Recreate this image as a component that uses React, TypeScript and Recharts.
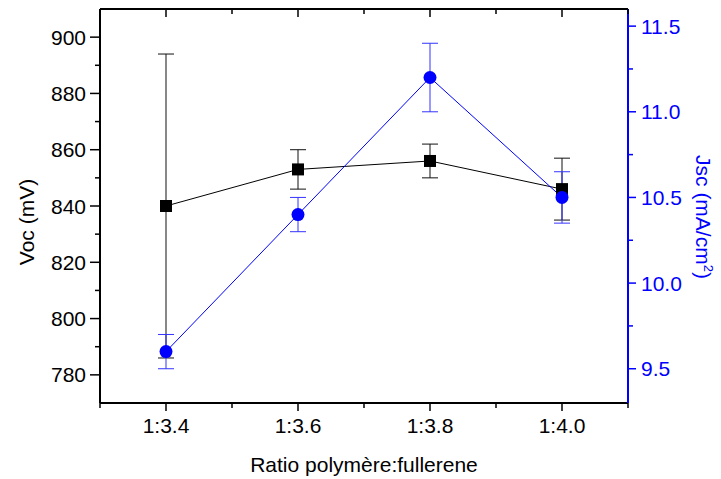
import React from 'react';
import { ComposedChart, Line, XAxis, YAxis, ErrorBar, Label } from 'recharts';

const ratioLabels = ['1:3.4', '1:3.6', '1:3.8', '1:4.0'];
const ratioValues = [3.4, 3.6, 3.8, 4.0];
const vocValues = [840, 853, 856, 846];
const vocErrors = [54, 7, 6, 11];
const jscValues = [9.6, 10.4, 11.2, 10.5];
const jscErrors = [0.1, 0.1, 0.2, 0.15];

const xTicks = [3.3, 3.4, 3.5, 3.6, 3.7, 3.8, 3.9, 4.0, 4.1];
const vocTicks = [780, 790, 800, 810, 820, 830, 840, 850, 860, 870, 880, 890, 900];
const vocMajorTicks = [780, 800, 820, 840, 860, 880, 900];
const jscTicks = [9.5, 9.75, 10.0, 10.25, 10.5, 10.75, 11.0, 11.25, 11.5];
const jscMajorTicks = [9.5, 10.0, 10.5, 11.0, 11.5];

const data = ratioValues.map((x, i) => ({
  x,
  voc: vocValues[i],
  vocErr: vocErrors[i],
  jsc: jscValues[i],
  jscErr: jscErrors[i],
}));

const FONT = '"Liberation Sans", Arial, Helvetica, sans-serif';
const BLUE = '#0000ff';
const FS = 21;

const indexIn = (v: number, arr: number[]) => arr.findIndex((a) => Math.abs(a - v) < 1e-6);

const BottomTick = (props: any) => {
  const { x, y, payload } = props;
  const idx = indexIn(payload.value, ratioValues);
  const major = idx >= 0;
  return (
    <g>
      <line x1={x} x2={x} y1={y} y2={y + (major ? 8 : 5)} stroke="#000" strokeWidth={1.5} />
      {major && (
        <text x={x} y={y + 30} textAnchor="middle" fontFamily={FONT} fontSize={FS} fill="#000">
          {ratioLabels[idx]}
        </text>
      )}
    </g>
  );
};

const TopTick = (props: any) => {
  const { x, y, payload } = props;
  const major = indexIn(payload.value, ratioValues) >= 0;
  return <line x1={x} x2={x} y1={y} y2={y + (major ? 8 : 5)} stroke="#000" strokeWidth={1.5} />;
};

const LeftTick = (props: any) => {
  const { x, y, payload } = props;
  const major = indexIn(payload.value, vocMajorTicks) >= 0;
  return (
    <g>
      <line x1={x - (major ? 10 : 5)} x2={x} y1={y} y2={y} stroke="#000" strokeWidth={1.5} />
      {major && (
        <text x={x - 14} y={y + 7.5} textAnchor="end" fontFamily={FONT} fontSize={FS} fill="#000">
          {payload.value}
        </text>
      )}
    </g>
  );
};

const RightTick = (props: any) => {
  const { x, y, payload } = props;
  const major = indexIn(payload.value, jscMajorTicks) >= 0;
  return (
    <g>
      <line x1={x} x2={x + (major ? 8 : 5)} y1={y} y2={y} stroke={BLUE} strokeWidth={1.5} />
      {major && (
        <text x={x + 13} y={y + 7.5} textAnchor="start" fontFamily={FONT} fontSize={FS} fill={BLUE}>
          {Number(payload.value).toFixed(1)}
        </text>
      )}
    </g>
  );
};

const SquareDot = (props: any) => {
  const { cx, cy, index } = props;
  if (cx == null || cy == null) return <g key={`s${index}`} />;
  return <rect key={`s${index}`} x={cx - 6} y={cy - 6} width={12} height={12} fill="#000" />;
};

const CircleDot = (props: any) => {
  const { cx, cy, index } = props;
  if (cx == null || cy == null) return <g key={`c${index}`} />;
  return <circle key={`c${index}`} cx={cx} cy={cy} r={6.5} fill={BLUE} />;
};

const XLabel = (props: any) => {
  const vb = props.viewBox || { x: 100, y: 403, width: 528, height: 76 };
  return (
    <text x={vb.x + vb.width / 2} y={vb.y + 69} textAnchor="middle" fontFamily={FONT} fontSize={FS} fill="#000">
      Ratio polymère:fullerene
    </text>
  );
};

const LeftLabel = (props: any) => {
  const vb = props.viewBox || { x: 0, y: 9, width: 100, height: 394 };
  const cx = vb.x + 34;
  const cy = vb.y + vb.height / 2 + 16;
  return (
    <text x={cx} y={cy} transform={`rotate(-90, ${cx}, ${cy})`} textAnchor="middle" fontFamily={FONT} fontSize={FS} fill="#000">
      Voc (mV)
    </text>
  );
};

const RightLabel = (props: any) => {
  const vb = props.viewBox || { x: 628, y: 9, width: 93, height: 394 };
  const cx = vb.x + 68;
  const cy = vb.y + vb.height / 2 + 11;
  return (
    <text x={cx} y={cy} transform={`rotate(90, ${cx}, ${cy})`} textAnchor="middle" fontFamily={FONT} fontSize={FS} fill={BLUE}>
      <tspan>Jsc (mA/cm</tspan>
      <tspan dy={-8} fontSize={13}>2</tspan>
      <tspan dy={8}>)</tspan>
    </text>
  );
};

export default function App() {
  return (
    <div style={{ position: 'absolute', left: 0, top: 0, width: 721, height: 479, background: '#fff' }}>
      <ComposedChart width={721} height={479} data={data} margin={{ top: 8, right: 0, bottom: 0, left: 0 }}>
        <XAxis
          xAxisId="bottom"
          dataKey="x"
          type="number"
          domain={[3.3, 4.1]}
          allowDataOverflow
          ticks={xTicks}
          interval={0}
          orientation="bottom"
          height={76}
          axisLine={{ stroke: '#000', strokeWidth: 2 }}
          tickLine={false}
          tickSize={0}
          tickMargin={0}
          tick={<BottomTick />}
        >
          <Label content={<XLabel />} />
        </XAxis>
        <XAxis
          xAxisId="top"
          dataKey="x"
          type="number"
          domain={[3.3, 4.1]}
          allowDataOverflow
          ticks={xTicks}
          interval={0}
          orientation="top"
          height={1}
          axisLine={{ stroke: '#000', strokeWidth: 2 }}
          tickLine={false}
          tickSize={0}
          tickMargin={0}
          tick={<TopTick />}
        />
        <YAxis
          yAxisId="voc"
          orientation="left"
          width={100}
          type="number"
          domain={[770, 910]}
          allowDataOverflow
          ticks={vocTicks}
          interval={0}
          axisLine={{ stroke: '#000', strokeWidth: 2 }}
          tickLine={false}
          tickSize={0}
          tickMargin={0}
          tick={<LeftTick />}
        >
          <Label content={<LeftLabel />} />
        </YAxis>
        <YAxis
          yAxisId="jsc"
          orientation="right"
          width={93}
          type="number"
          domain={[9.3, 11.6]}
          allowDataOverflow
          ticks={jscTicks}
          interval={0}
          axisLine={{ stroke: BLUE, strokeWidth: 2 }}
          tickLine={false}
          tickSize={0}
          tickMargin={0}
          tick={<RightTick />}
        >
          <Label content={<RightLabel />} />
        </YAxis>
        <Line
          xAxisId="bottom"
          yAxisId="voc"
          dataKey="voc"
          stroke="#000"
          strokeWidth={1}
          dot={SquareDot}
          activeDot={false}
          isAnimationActive={false}
        >
          <ErrorBar dataKey="vocErr" direction="y" width={8} stroke="#111" strokeWidth={1} />
        </Line>
        <Line
          xAxisId="bottom"
          yAxisId="jsc"
          dataKey="jsc"
          stroke={BLUE}
          strokeWidth={1}
          dot={CircleDot}
          activeDot={false}
          isAnimationActive={false}
        >
          <ErrorBar dataKey="jscErr" direction="y" width={8} stroke="#3333ff" strokeWidth={1} />
        </Line>
      </ComposedChart>
    </div>
  );
}
